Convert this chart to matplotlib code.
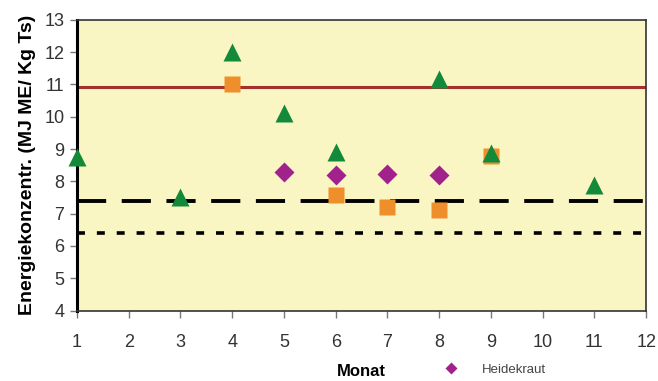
import matplotlib.pyplot as plt
from matplotlib.lines import Line2D

plt.rcParams['font.family'] = ['Liberation Sans', 'DejaVu Sans']

# Monat -> Energiekonzentration
tri_months = [1, 3, 4, 5, 6, 8, 9, 11]
tri_values = [8.75, 7.5, 12.0, 10.1, 8.92, 11.17, 8.87, 7.88]
sq_months = [4, 6, 7, 8, 9]
sq_values = [11.0, 7.58, 7.2, 7.1, 8.78]
dia_months = [5, 6, 7, 8]
dia_values = [8.28, 8.21, 8.24, 8.21]

red_level = 10.93
dash_level = 7.4
dot_level = 6.4

x_ticks = list(range(1, 13))
y_ticks = list(range(4, 14))

fig = plt.figure(figsize=(6.58, 3.81), dpi=100)
ax = fig.add_axes([0.117, 0.185, 0.865, 0.763])
ax.set_facecolor('#faf6c4')

ax.axhline(red_level, color='#a3302c', lw=2.2, zorder=2)
ax.axhline(dash_level, color='black', lw=2.8, dashes=(7.5, 4), zorder=2)
ax.axhline(dot_level, color='black', lw=2.6, dashes=(2.2, 3.3), zorder=2)

ax.plot(sq_months, sq_values, 's', color='#ef8f2c', ms=12, mec='none', zorder=3, clip_on=False)
ax.plot(dia_months, dia_values, 'D', color='#a0228a', ms=10.5, mec='none', zorder=3, clip_on=False)
ax.plot(tri_months, tri_values, '^', color='#138a3a', ms=13, mec='none', zorder=4, clip_on=False)

ax.set_xlim(1, 12)
ax.set_ylim(4, 13)
ax.set_xticks(x_ticks)
ax.set_yticks(y_ticks)
ax.tick_params(axis='both', labelsize=13, colors='#777777', labelcolor='#333333',
               length=5, width=1, direction='out')
ax.tick_params(axis='x', pad=12)
ax.tick_params(axis='y', pad=4)

for side in ['top', 'right', 'bottom']:
    ax.spines[side].set_color('#333333')
    ax.spines[side].set_linewidth(1.2)
ax.spines['left'].set_color('black')
ax.spines['left'].set_linewidth(2.2)

ax.set_xlabel('Monat', fontsize=12, fontweight='bold', labelpad=9)
ax.set_ylabel('Energiekonzentr. (MJ ME/ Kg Ts)', fontsize=14, fontweight='bold', labelpad=6)

handle = Line2D([], [], marker='D', color='#a0228a', ls='none', ms=6, mec='none')
fig.legend(handles=[handle], labels=['Heidekraut'], loc='center left',
           bbox_to_anchor=(0.648, 0.03), frameon=False, fontsize=9.5,
           handletextpad=1.3, labelcolor='#444444')

fig.savefig('out.png', dpi=100)
